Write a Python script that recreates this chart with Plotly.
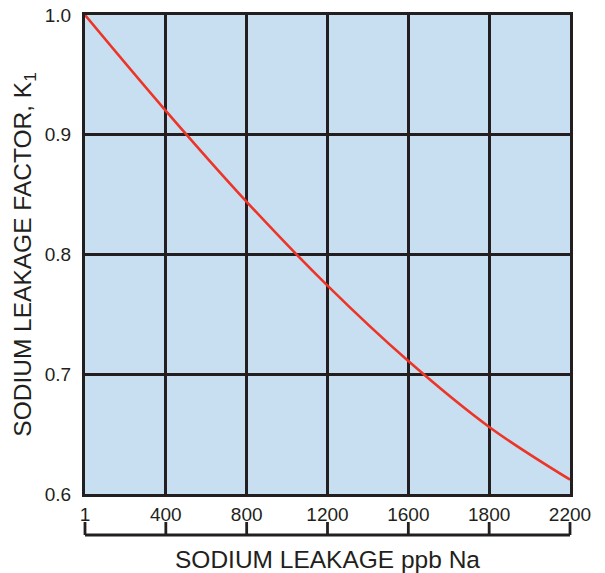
import plotly.graph_objects as go

# Sodium leakage (ppb Na) categories along the bottom scale
leakage_labels = ["1", "400", "800", "1200", "1600", "1800", "2200"]
# Sodium leakage factor K1 at each leakage value
k1_factor = [1.0, 0.920, 0.844, 0.774, 0.711, 0.656, 0.612]
# Factor axis ticks
k1_ticks = [0.6, 0.7, 0.8, 0.9, 1.0]

INK = "#231F20"
RED = "#EC3527"
PANEL = "#C8DFF2"
FONT = "Liberation Sans, Arial, Helvetica, sans-serif"

n = len(leakage_labels)

# Figure geometry (pixels)
W, H = 605, 573
M_L, M_R, M_T = 80, 30, 15
PAPER_W = W - M_L - M_R
PAPER_H = H - M_T
PAD = 5                     # room so the ruler end ticks are not clipped
PLOT_BOTTOM = 494           # pixel row of the chart's lower border
RULER_BASE, RULER_TOP = 535, 522

fig = go.Figure()
fig.add_trace(go.Scatter(
    x=leakage_labels,
    y=k1_factor,
    mode="lines",
    line=dict(color=RED, width=2.6, shape="spline", smoothing=1.0),
    hoverinfo="x+y",
    showlegend=False,
))

# Bracket ruler below the tick labels: a baseline with an upright tick per category
ruler_x, ruler_y = [leakage_labels[0], leakage_labels[-1], None], [0, 0, None]
for lab in leakage_labels:
    ruler_x += [lab, lab, None]
    ruler_y += [0, 1, None]
fig.add_trace(go.Scatter(
    x=ruler_x, y=ruler_y,
    xaxis="x2", yaxis="y2", mode="lines",
    line=dict(color=INK, width=2.8),
    showlegend=False, hoverinfo="skip",
))

# Light blue panel behind the grid of the main chart
fig.add_shape(
    type="rect", xref="x domain", yref="y domain",
    x0=0, x1=1, y0=0, y1=1,
    fillcolor=PANEL, line=dict(width=0), layer="below",
)

main_dom = [PAD / PAPER_W, 1 - PAD / PAPER_W]
step_px = (PAPER_W - 2 * PAD) / (n - 1)
ruler_xrange = [-PAD / step_px, (n - 1) + PAD / step_px]

tick_h = RULER_BASE - RULER_TOP
ruler_dom = [(H - RULER_BASE - PAD) / PAPER_H, (H - RULER_TOP) / PAPER_H]
ruler_yrange = [-PAD / tick_h, 1.0]

fig.update_layout(
    width=W, height=H,
    margin=dict(l=M_L, r=M_R, t=M_T, b=0),
    paper_bgcolor="white",
    plot_bgcolor="white",
    font=dict(family=FONT, color=INK, size=19),
    xaxis=dict(
        domain=main_dom,
        type="category",
        categoryarray=leakage_labels,
        range=[0, n - 1],
        showgrid=True, gridcolor=INK, gridwidth=2.5,
        showline=True, linecolor=INK, linewidth=3, mirror=True,
        ticks="outside", ticklen=0, ticklabelstandoff=1,
        tickfont=dict(size=19),
        zeroline=False, automargin=False,
        fixedrange=True,
    ),
    yaxis=dict(
        domain=[(H - PLOT_BOTTOM) / PAPER_H, 1.0],
        range=[0.6, 1.0],
        tickvals=k1_ticks,
        tickformat=".1f",
        showgrid=True, gridcolor=INK, gridwidth=2.5,
        showline=True, linecolor=INK, linewidth=3, mirror=True,
        ticks="outside", ticklen=0, ticklabelstandoff=7,
        tickfont=dict(size=19),
        zeroline=False, automargin=False,
        title=dict(text="SODIUM LEAKAGE FACTOR, K<sub>1</sub>", font=dict(size=24.5), standoff=7),
        fixedrange=True,
    ),
    xaxis2=dict(
        anchor="y2",
        domain=[0, 1],
        type="category",
        categoryarray=leakage_labels,
        range=ruler_xrange,
        showgrid=False, zeroline=False, showline=False,
        ticks="", showticklabels=False,
        title=dict(text="SODIUM LEAKAGE ppb Na", font=dict(size=24.5), standoff=10),
        automargin=False, fixedrange=True,
    ),
    yaxis2=dict(
        anchor="x2",
        domain=ruler_dom,
        range=ruler_yrange,
        visible=False, fixedrange=True,
    ),
)

fig.write_html("out.html")
